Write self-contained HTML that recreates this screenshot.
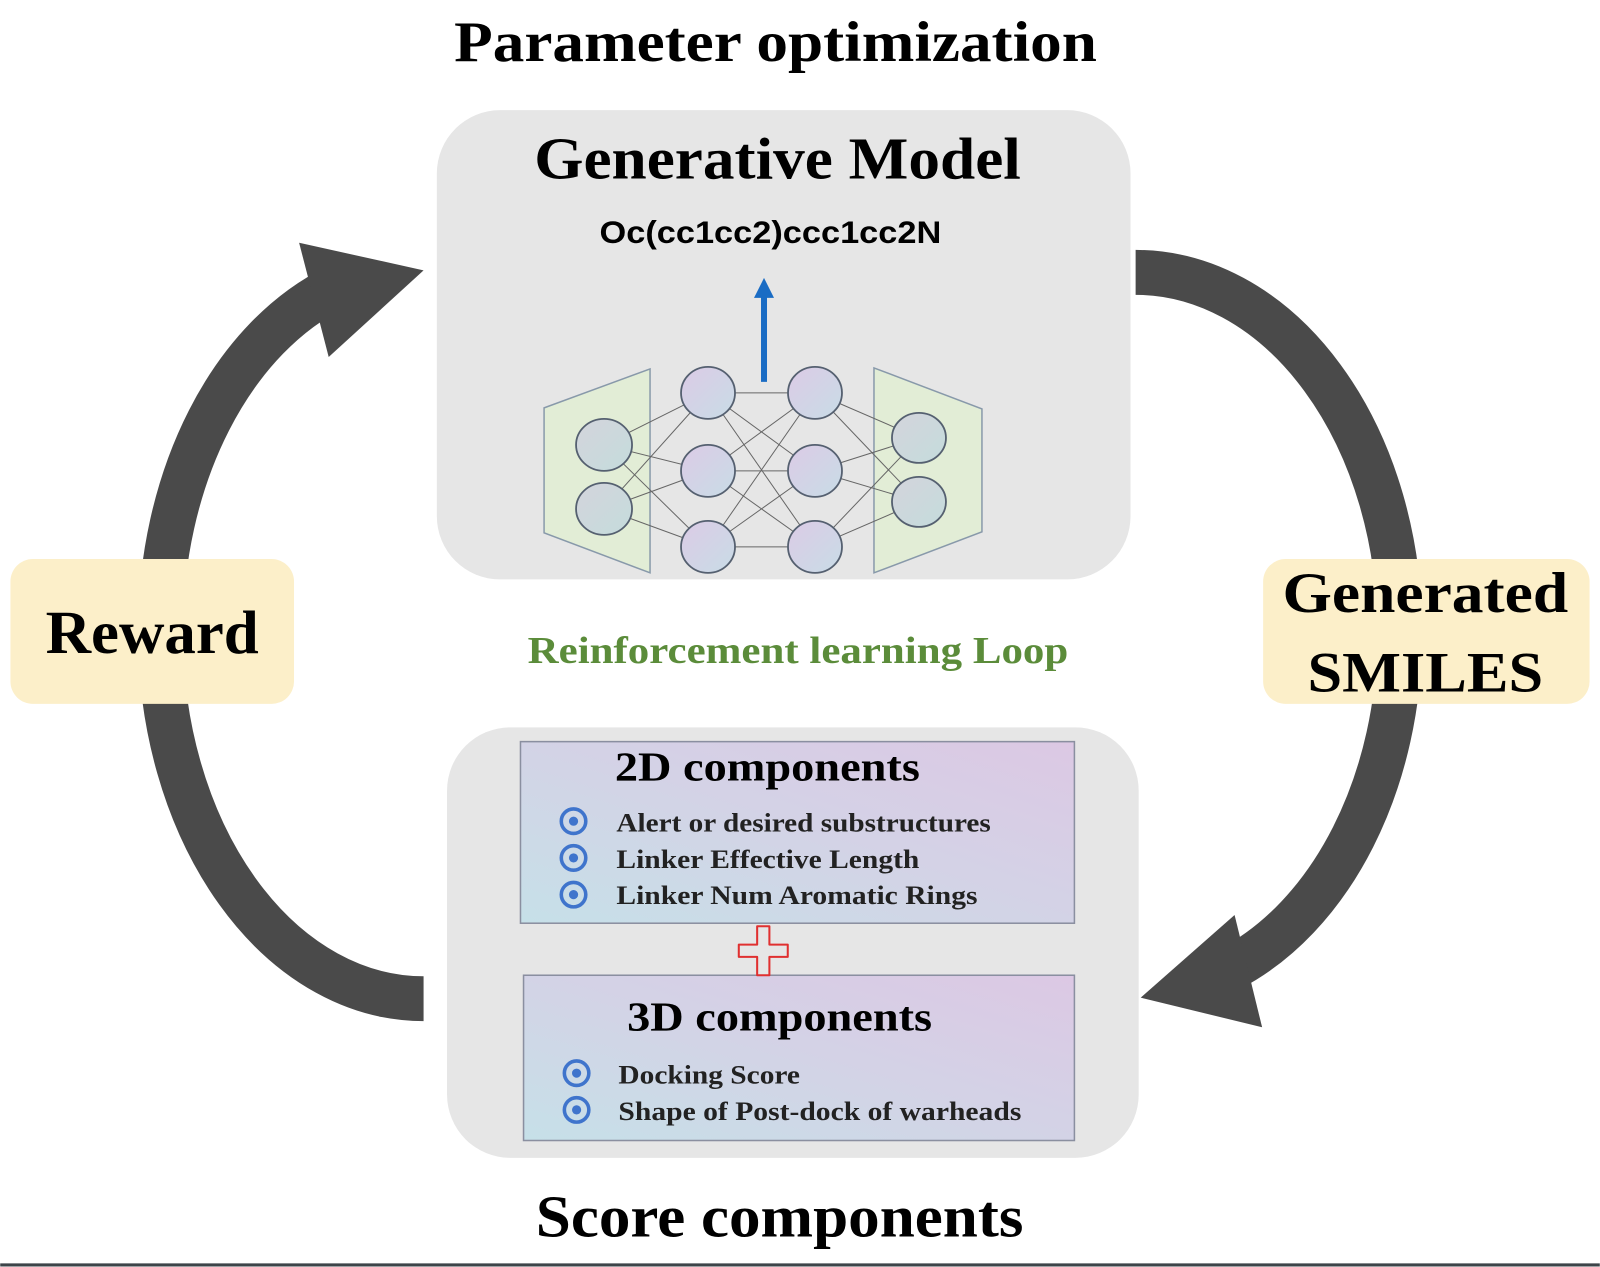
<!DOCTYPE html>
<html><head><meta charset="utf-8"><style>
html,body{margin:0;padding:0;background:#fff;}
svg{display:block;}
.serif{font-family:"Liberation Serif",serif;font-weight:bold;}
.sans{font-family:"Liberation Sans",sans-serif;font-weight:bold;}
</style></head><body>
<svg width="1600" height="1267" viewBox="0 0 1568 1242" xmlns="http://www.w3.org/2000/svg">
<defs>
<linearGradient id="bx" x1="0" y1="1" x2="1" y2="0">
<stop offset="0" stop-color="#c6e0e8"/><stop offset="0.5" stop-color="#d3d3e6"/><stop offset="1" stop-color="#dcc8e4"/>
</linearGradient>
<linearGradient id="nd" x1="0" y1="0" x2="1" y2="1">
<stop offset="0" stop-color="#dccbe6"/><stop offset="1" stop-color="#c8dce6"/>
</linearGradient>
<linearGradient id="nd2" x1="0" y1="0" x2="1" y2="1">
<stop offset="0" stop-color="#d4d4dc"/><stop offset="1" stop-color="#c4dcdc"/>
</linearGradient>
</defs>
<rect width="1568" height="1242" fill="#fff"/>
<line x1="0" y1="1240" x2="1568" y2="1240" stroke="#3d4449" stroke-width="3"/>

<!-- arrows -->
<path d="M415,979 A258,359 0 0 1 157,620 A258,359 0 0 1 330,281" fill="none" stroke="#4a4a4a" stroke-width="44"/>
<polygon points="415,265 293,238 322,350" fill="#4a4a4a"/>
<path d="M1113,267 A259,353 0 0 1 1372,620 A259,353 0 0 1 1205,950" fill="none" stroke="#4a4a4a" stroke-width="44"/>
<polygon points="1118,978 1210,897 1237,1007" fill="#4a4a4a"/>

<text x="760" y="60" text-anchor="middle" class="serif" font-size="56" textLength="630" lengthAdjust="spacingAndGlyphs">Parameter optimization</text>

<!-- top box -->
<rect x="428" y="108" width="680" height="460" rx="62" fill="#e6e6e6"/>
<text x="762" y="175" text-anchor="middle" class="serif" font-size="58" textLength="477" lengthAdjust="spacingAndGlyphs">Generative Model</text>
<text x="755" y="238" text-anchor="middle" class="sans" font-size="31" textLength="335" lengthAdjust="spacingAndGlyphs">Oc(cc1cc2)ccc1cc2N</text>

<g transform="scale(0.98)">
<line x1="764" y1="382" x2="764" y2="295" stroke="#1a6cc4" stroke-width="6"/>
<polygon points="764,278 754,298 774,298" fill="#1a6cc4"/>
<polygon points="544,408 650,369 650,573 544,533" fill="#e2edd6" stroke="#8899aa" stroke-width="1.5"/>
<polygon points="874,368 982,409 982,532 874,573" fill="#e2edd6" stroke="#8899aa" stroke-width="1.5"/>
<g stroke="#666" stroke-width="1" fill="none">
<line x1="604" y1="445" x2="708" y2="393"/><line x1="604" y1="445" x2="708" y2="471"/><line x1="604" y1="445" x2="708" y2="547"/>
<line x1="604" y1="509" x2="708" y2="393"/><line x1="604" y1="509" x2="708" y2="471"/><line x1="604" y1="509" x2="708" y2="547"/>
<line x1="708" y1="393" x2="815" y2="393"/><line x1="708" y1="393" x2="815" y2="471"/><line x1="708" y1="393" x2="815" y2="547"/>
<line x1="708" y1="471" x2="815" y2="393"/><line x1="708" y1="471" x2="815" y2="471"/><line x1="708" y1="471" x2="815" y2="547"/>
<line x1="708" y1="547" x2="815" y2="393"/><line x1="708" y1="547" x2="815" y2="471"/><line x1="708" y1="547" x2="815" y2="547"/>
<line x1="815" y1="393" x2="919" y2="438"/><line x1="815" y1="393" x2="919" y2="502"/>
<line x1="815" y1="471" x2="919" y2="438"/><line x1="815" y1="471" x2="919" y2="502"/>
<line x1="815" y1="547" x2="919" y2="438"/><line x1="815" y1="547" x2="919" y2="502"/>
</g>
<g stroke="#556070" stroke-width="1.8">
<ellipse cx="604" cy="445" rx="28" ry="26" fill="url(#nd2)"/>
<ellipse cx="604" cy="509" rx="28" ry="26" fill="url(#nd2)"/>
<ellipse cx="708" cy="393" rx="27" ry="26" fill="url(#nd)"/>
<ellipse cx="708" cy="471" rx="27" ry="26" fill="url(#nd)"/>
<ellipse cx="708" cy="547" rx="27" ry="26" fill="url(#nd)"/>
<ellipse cx="815" cy="393" rx="27" ry="26" fill="url(#nd)"/>
<ellipse cx="815" cy="471" rx="27" ry="26" fill="url(#nd)"/>
<ellipse cx="815" cy="547" rx="27" ry="26" fill="url(#nd)"/>
<ellipse cx="919" cy="438" rx="27" ry="25" fill="url(#nd2)"/>
<ellipse cx="919" cy="502" rx="27" ry="25" fill="url(#nd2)"/>
</g>
</g>

<!-- side boxes -->
<rect x="10" y="548" width="278" height="142" rx="22" fill="#fcefc9"/>
<text x="149" y="640" text-anchor="middle" class="serif" font-size="60" textLength="209" lengthAdjust="spacingAndGlyphs">Reward</text>
<rect x="1238" y="548" width="320" height="142" rx="22" fill="#fcefc9"/>
<text x="1397" y="600" text-anchor="middle" class="serif" font-size="56" textLength="280" lengthAdjust="spacingAndGlyphs">Generated</text>
<text x="1397" y="678" text-anchor="middle" class="serif" font-size="56" textLength="231" lengthAdjust="spacingAndGlyphs">SMILES</text>

<text x="782" y="650" text-anchor="middle" class="serif" font-size="37" fill="#5b8c3a" textLength="530" lengthAdjust="spacingAndGlyphs">Reinforcement learning  Loop</text>

<!-- bottom box -->
<rect x="438" y="713" width="678" height="422" rx="62" fill="#e6e6e6"/>
<rect x="510" y="727" width="543" height="178" fill="url(#bx)" stroke="#8a8fa0" stroke-width="1.5"/>
<rect x="513" y="956" width="540" height="162" fill="url(#bx)" stroke="#8a8fa0" stroke-width="1.5"/>
<text x="752" y="765" text-anchor="middle" class="serif" font-size="40" textLength="299" lengthAdjust="spacingAndGlyphs">2D components</text>
<text x="764" y="1010" text-anchor="middle" class="serif" font-size="40" textLength="299" lengthAdjust="spacingAndGlyphs">3D components</text>
<g fill="none" stroke="#3f74cc" stroke-width="3.5">
<circle cx="562" cy="805" r="12"/><circle cx="562" cy="841" r="12"/><circle cx="562" cy="877" r="12"/>
<circle cx="565" cy="1052" r="12"/><circle cx="565" cy="1088" r="12"/>
</g>
<g fill="#3f74cc">
<circle cx="562" cy="805" r="4.5"/><circle cx="562" cy="841" r="4.5"/><circle cx="562" cy="877" r="4.5"/>
<circle cx="565" cy="1052" r="4.5"/><circle cx="565" cy="1088" r="4.5"/>
</g>
<g class="serif" font-size="26" fill="#222">
<text x="604" y="815" textLength="367" lengthAdjust="spacingAndGlyphs">Alert or desired substructures</text>
<text x="604" y="851" textLength="297" lengthAdjust="spacingAndGlyphs">Linker Effective Length</text>
<text x="604" y="886" textLength="354" lengthAdjust="spacingAndGlyphs">Linker Num Aromatic Rings</text>
<text x="606" y="1062" textLength="178" lengthAdjust="spacingAndGlyphs">Docking Score</text>
<text x="606" y="1098" textLength="395" lengthAdjust="spacingAndGlyphs">Shape of Post-dock of warheads</text>
</g>
<path d="M742,908 h12 v18 h18 v12 h-18 v18 h-12 v-18 h-18 v-12 h18 z" fill="none" stroke="#e03030" stroke-width="2" stroke-linejoin="round"/>

<text x="764" y="1212" text-anchor="middle" class="serif" font-size="58" textLength="478" lengthAdjust="spacingAndGlyphs">Score components</text>
</svg>
</body></html>
